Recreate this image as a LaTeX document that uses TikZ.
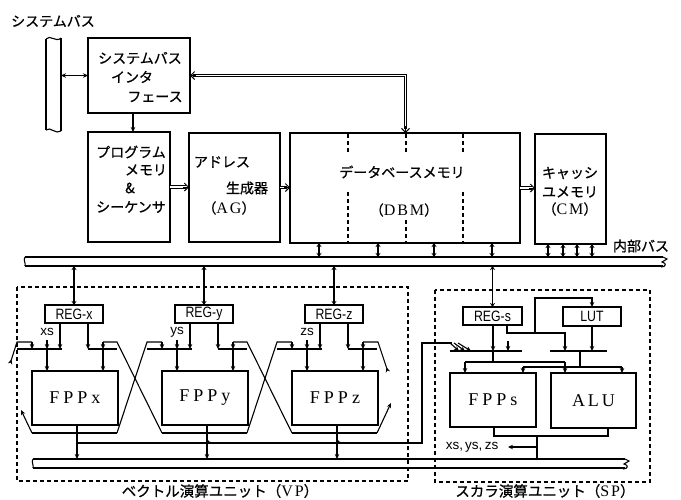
\documentclass[tikz,border=0pt]{standalone}
\usepackage{fontspec}
\usepackage{graphicx}
\setmainfont{Liberation Serif}
\newfontfamily\cjk[FakeBold=0.8]{Noto Sans CJK JP}
\newfontfamily\sansf{Liberation Sans}
\usetikzlibrary{arrows.meta,fit}
\newcommand\bx[3]{\node[box, fit={#2 #3}] (#1) {};}
\newcommand\pp[1]{{\cjk （}{\rmfamily\fontsize{16}{17}\selectfont #1}{\cjk ）}}
\newcommand\sq[1]{\scalebox{0.82}[1]{#1}}
\begin{document}
\begin{tikzpicture}[x=1pt,y=-1pt,
  line width=1.1pt,
  >={Stealth[length=5pt,width=4.5pt]},
  box/.style={draw, line width=1.3pt, inner sep=0pt, outer sep=0pt},
  txt/.style={inner sep=0pt, font=\cjk\fontsize{14}{16}\selectfont},
  labtxt/.style={inner sep=0pt, font=\cjk\fontsize{14.5}{16}\selectfont},
  regtxt/.style={inner sep=0pt, font=\sansf\fontsize{15}{17}\selectfont},
  stxt/.style={inner sep=0pt, font=\sansf\fontsize{13.5}{15}\selectfont},
  bigtxt/.style={inner sep=0pt, font=\rmfamily\fontsize{18}{20}\selectfont},
  dline/.style={double, double distance=1.6pt, line width=0.9pt},
  tip/.style={-{Straight Barb[length=4pt,width=8pt,line width=1pt]}, line width=1pt},
  busarr/.style={<->, line width=1.2pt, >={Stealth[length=4pt,width=5pt]}},
  dashbox/.style={line width=1.1pt, dash pattern=on 4pt off 3pt},
  dbmdash/.style={line width=1.1pt, dash pattern=on 4pt off 3pt},
]
\fill[white] (0,0) rectangle (681,499);
\useasboundingbox (0,0) rectangle (681,499);

% ---------- system bus ----------
\node[txt] (tsb) at (53,21) {システムバス};
\draw (46,39) -- (46,130) (61,38) -- (61,131);
\draw (46,39) .. controls (50,34) and (56,43) .. (61,38);
\draw (46,130) .. controls (50,126) and (56,135) .. (61,131);
\coordinate (sb) at (61,75.5);

% ---------- top boxes ----------
\bx{ifc}{(88,38)}{(190,113)}
\node[txt] (ifc1) at (140,58) {システムバス};
\node[txt] (ifc2) at (132,77) {インタ};
\node[txt] (ifc3) at (155,97) {フェース};

\bx{pm}{(88,132)}{(170,242)}
\node[txt] (pm1) at (131,152) {プログラム};
\node[txt] (pm2) at (146,170) {メモリ};
\node[txt] (pm3) at (130,188) {\&};
\node[txt] (pm4) at (131,207) {シーケンサ};

\bx{ag}{(189,133)}{(280,242)}
\node[txt] (ag1) at (222,162) {アドレス};
\node[txt] (ag2) at (247,188) {生成器};
\node[txt] (ag3) at (229,208) {\pp{A\hspace{2pt}G}};

\bx{dbm}{(290,133)}{(520,243)}
\node[txt] (dbm1) at (402,172) {データベースメモリ};
\node[txt] (dbm2) at (404,210) {\pp{D\hspace{2pt}B\hspace{2pt}M}};
\foreach \x in {348,463} {
  \draw[dbmdash] (\x,134) -- (\x,154);
  \draw[dbmdash] (\x,192) -- (\x,242);
}
\draw[dbmdash] (406,134) -- (406,154);
\draw[dbmdash] (406,220) -- (406,242);

\bx{cm}{(535,134)}{(606,244)}
\node[txt] (cm1) at (570,173) {キャッシ};
\node[txt] (cm2) at (570,192) {ユメモリ};
\node[txt] (cm3) at (570,209) {\pp{C\hspace{2pt}M}};

\draw[<->] (sb) -- (ifc.west);
\draw[->] (133,113) -- (133,132);
% interface <-> DBM (double line)
\coordinate (dbmtop) at (405.5,133);
\coordinate (bend) at (405.5,75.5);
\draw[dline] ([xshift=3pt]ifc.east) -- (bend) -- (405.5,129);
\draw[tip] ([xshift=6pt]ifc.east) -- (ifc.east);
\draw[tip] (405.5,126) -- (dbmtop);
% horizontal double arrows
\draw[dline] (pm.east) -- ([xshift=-3pt]pm.east -| ag.west);
\draw[tip] ([xshift=-6pt]pm.east -| ag.west) -- (pm.east -| ag.west);
\draw[dline] (ag.east) -- ([xshift=-3pt]ag.east -| dbm.west);
\draw[tip] ([xshift=-6pt]ag.east -| dbm.west) -- (ag.east -| dbm.west);
\draw[dline] (dbm.east) -- ([xshift=-3pt]dbm.east -| cm.west);
\draw[tip] ([xshift=-6pt]dbm.east -| cm.west) -- (dbm.east -| cm.west);

% ---------- internal bus ----------
\coordinate (ibus) at (0,266);
\draw (25,257) -- (663,257);
\draw (25,266) -- (663,266);
\draw (25,257) .. controls (23,260) and (26,263) .. (25,266);
\draw (663,257) -- (667,259) -- (662,262) .. controls (667,263) and (666,267) .. (661,267);
\node[txt] (inbus) at (641,246) {内部バス};
\foreach \x in {319,378,434,492} \draw[busarr] (\x,243) -- (\x,257);
\foreach \x in {548,563,577,592} \draw[busarr] (\x,244) -- (\x,257);

% ---------- bottom bus ----------
\draw (33,459) -- (625,459);
\draw (33,468) -- (625,468);
\draw (33,459) .. controls (31,462) and (34,465) .. (33,468);
\draw (625,459) -- (629,461) -- (624,464) .. controls (629,465) and (628,469) .. (623,469);

% ---------- VP ----------
\draw[dashbox] (17,287) rectangle (408,481);
\foreach \k/\n in {0/x,1/y,2/z} {
  \pgfmathsetmacro\dx{130*\k}
  \bx{reg\n}{(45+\dx,305)}{(103+\dx,323)}
  \node[regtxt] (regt\n) at (reg\n.center) {\sq{REG-\n}};
  \draw[busarr] (reg\n.north |- ibus) -- (reg\n.north);
  \node[stxt] (s\n) at (47+\dx,332) {\n s};
  \draw[->] (47+\dx,340) -- (47+\dx,349);
  \draw (17+\dx,349) -- (62+\dx,349);
  \draw[->] (60+\dx,323) -- (60+\dx,349);
  \draw[->] (32+\dx,342) -- (32+\dx,349);
  \draw[->] (47+\dx,349) -- (47+\dx,371);
  \draw (88+\dx,349) -- (117+\dx,349);
  \draw[->] (88+\dx,323) -- (88+\dx,349);
  \draw[->] (103+\dx,342) -- (103+\dx,349);
  \draw[->] (103+\dx,349) -- (103+\dx,371);
  \bx{fpp\n}{(32+\dx,371)}{(118+\dx,425)}
  \node[bigtxt] (fppt\n) at (fpp\n.center) {F\hspace{4pt}P\hspace{4pt}P\hspace{4pt}\n};
  \draw (32+\dx,433) -- (117+\dx,433);
  \draw[->] (77+\dx,425) -- (77+\dx,459);
}
% crossing connections
\foreach \k in {0,1} {
  \pgfmathsetmacro\dx{130*\k}
  \draw (117+\dx,433) -- (147+\dx,342) -- (162+\dx,342);
}
\foreach \k in {1,2} {
  \pgfmathsetmacro\dx{130*\k}
  \draw (32+\dx,433) -- (-13+\dx,342) -- (-27+\dx,342);
}
% wrap-around stubs
\draw[->] (32,433) -- (21,410);
\draw[{Stealth[length=5pt,width=4.5pt,reversed]}-] (10,364) -- (17,342) -- (32,342);
\draw[->] (377,433) -- (391,403);
\draw[{Stealth[length=5pt,width=4.5pt,reversed]}-] (388,372) -- (378,342) -- (363,342);

% output collector
\draw (77,443) -- (422,443) -- (422,343) -- (452,343);
\foreach \x in {207,337}
  \draw (\x,437) .. controls (\x,442) and (\x+2,443) .. (\x+8,443);
\draw[->] (450,343) -- (459,351);
\draw[->] (454,343) -- (465,351);
\draw[->] (458,343) -- (471,351);

% ---------- SP ----------
\draw[dashbox] (435,290) rectangle (650,482);
\bx{regs}{(463,307)}{(522,325)}
\node[regtxt] (regts) at (regs.center) {\sq{REG-s}};
\bx{lut}{(563,307)}{(621,326)}
\node[regtxt] (lutt) at (lut.center) {\sq{LUT}};
\draw[busarr] (regs.north |- ibus) -- (regs.north);
\draw (450,351) -- (522,351);
\draw (550,351) -- (607,351);
\draw[->] (493,325) -- (493,351);
\draw (493,351) -- (493,362);
\draw[->] (507,325) |- (565,333) -- (565,351);
\draw[->] (535,333) -- (535,298) -| (lut.north);
\draw[->] (lut.south) -- (592,351);
\draw[->] (508,341) -- (508,351);
\draw (465,362) -- (565,362);
\draw[->] (465,362) -- (465,373);
\draw[->] (565,362) -- (565,373);
\draw (580,351) -- (580,367);
\draw (523,367) -- (622,367);
\draw[->] (523,367) -- (523,373);
\draw[->] (622,367) -- (622,373);
\bx{fpps}{(450,373)}{(536,427)}
\node[bigtxt] (fppts) at (fpps.center) {F\hspace{4pt}P\hspace{4pt}P\hspace{4pt}s};
\bx{alu}{(551,373)}{(636,428)}
\node[bigtxt] (alut) at (alu.center) {A\hspace{3pt}L\hspace{3pt}U};
\draw (494,427) -- (494,436) -- (608,436) -- (608,428);
\draw (537,436) -- (537,459);
\draw[->] (537,447) -- (508,447);
\node[stxt] (xyz) at (472,447) {xs,\,ys,\,zs};

% ---------- unit labels ----------
\node[labtxt] (vplab) at (220,491) {ベクトル演算ユニット\pp{V\hspace{2pt}P}};
\node[labtxt] (splab) at (545,491) {スカラ演算ユニット\pp{S\hspace{2pt}P}};
\end{tikzpicture}
\end{document}
